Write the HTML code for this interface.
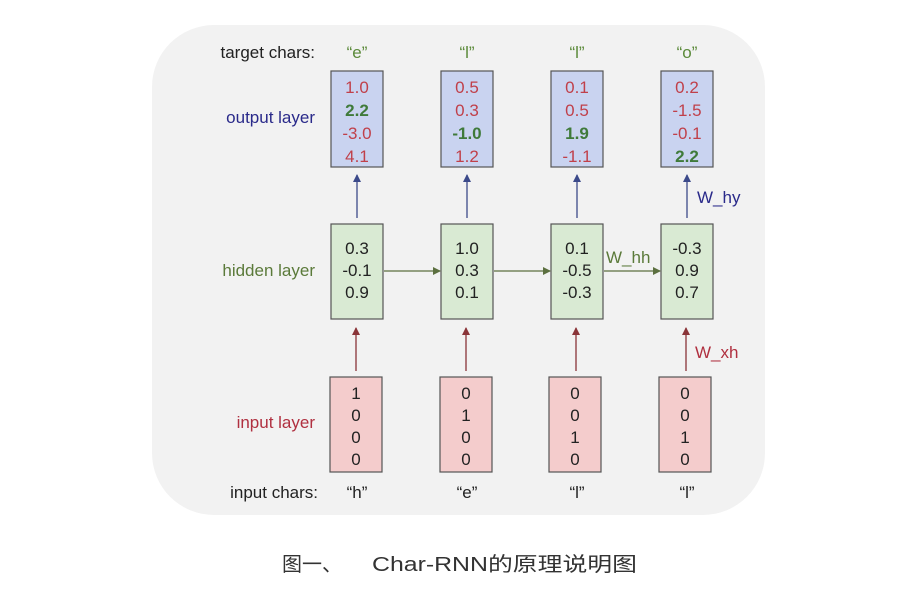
<!DOCTYPE html>
<html><head><meta charset="utf-8"><style>
html,body{margin:0;padding:0;background:#fff}
svg{display:block}
text{font-family:"Liberation Sans",Arial,sans-serif}
</style></head><body>
<svg width="900" height="591" viewBox="0 0 900 591" xmlns="http://www.w3.org/2000/svg">
<defs>
<marker id="ab" markerWidth="8" markerHeight="8" refX="7" refY="4" orient="auto" markerUnits="userSpaceOnUse"><path d="M0,0 L8,4 L0,8 z" fill="#3c4a8a"/></marker>
<marker id="ag" markerWidth="8" markerHeight="8" refX="7" refY="4" orient="auto" markerUnits="userSpaceOnUse"><path d="M0,0 L8,4 L0,8 z" fill="#5c7040"/></marker>
<marker id="ar" markerWidth="8" markerHeight="8" refX="7" refY="4" orient="auto" markerUnits="userSpaceOnUse"><path d="M0,0 L8,4 L0,8 z" fill="#8a3438"/></marker>
</defs>
<rect x="152" y="25" width="613" height="490" rx="62" fill="#f2f2f2"/>
<g font-size="17" text-anchor="end">
<text x="315" y="58" fill="#222">target chars:</text>
<text x="315" y="123" fill="#2a2a8a">output layer</text>
<text x="315" y="276" fill="#5b7a3a">hidden layer</text>
<text x="315" y="428" fill="#b03040">input layer</text>
<text x="318" y="498" fill="#222">input chars:</text>
</g>
<g font-size="17" text-anchor="middle" fill="#5b8a3a">
<text x="357" y="58">“e”</text><text x="467" y="58">“l”</text><text x="577" y="58">“l”</text><text x="687" y="58">“o”</text>
</g>
<g font-size="17" text-anchor="middle" fill="#222">
<text x="357" y="498">“h”</text><text x="467" y="498">“e”</text><text x="577" y="498">“l”</text><text x="687" y="498">“l”</text>
</g>
<g stroke="#555" stroke-width="1.2">
<rect x="331" y="71" width="52" height="96" fill="#c9d3f0"/>
<rect x="441" y="71" width="52" height="96" fill="#c9d3f0"/>
<rect x="551" y="71" width="52" height="96" fill="#c9d3f0"/>
<rect x="661" y="71" width="52" height="96" fill="#c9d3f0"/>
<rect x="331" y="224" width="52" height="95" fill="#d9ead3"/>
<rect x="441" y="224" width="52" height="95" fill="#d9ead3"/>
<rect x="551" y="224" width="52" height="95" fill="#d9ead3"/>
<rect x="661" y="224" width="52" height="95" fill="#d9ead3"/>
<rect x="330" y="377" width="52" height="95" fill="#f4cccc"/>
<rect x="440" y="377" width="52" height="95" fill="#f4cccc"/>
<rect x="549" y="377" width="52" height="95" fill="#f4cccc"/>
<rect x="659" y="377" width="52" height="95" fill="#f4cccc"/>
</g>
<g font-size="17" text-anchor="middle">
<g fill="#c0404a"><text x="357" y="93">1.0</text><text x="357" y="139">-3.0</text><text x="357" y="162">4.1</text>
<text x="467" y="93">0.5</text><text x="467" y="116">0.3</text><text x="467" y="162">1.2</text>
<text x="577" y="93">0.1</text><text x="577" y="116">0.5</text><text x="577" y="162">-1.1</text>
<text x="687" y="93">0.2</text><text x="687" y="116">-1.5</text><text x="687" y="139">-0.1</text></g>
<g fill="#3f7a3a" font-weight="bold"><text x="357" y="116">2.2</text><text x="467" y="139">-1.0</text><text x="577" y="139">1.9</text><text x="687" y="162">2.2</text></g>
<g fill="#222"><text x="357" y="254">0.3</text><text x="357" y="276">-0.1</text><text x="357" y="298">0.9</text>
<text x="467" y="254">1.0</text><text x="467" y="276">0.3</text><text x="467" y="298">0.1</text>
<text x="577" y="254">0.1</text><text x="577" y="276">-0.5</text><text x="577" y="298">-0.3</text>
<text x="687" y="254">-0.3</text><text x="687" y="276">0.9</text><text x="687" y="298">0.7</text>
<text x="356" y="399">1</text><text x="356" y="421">0</text><text x="356" y="443">0</text><text x="356" y="465">0</text>
<text x="466" y="399">0</text><text x="466" y="421">1</text><text x="466" y="443">0</text><text x="466" y="465">0</text>
<text x="575" y="399">0</text><text x="575" y="421">0</text><text x="575" y="443">1</text><text x="575" y="465">0</text>
<text x="685" y="399">0</text><text x="685" y="421">0</text><text x="685" y="443">1</text><text x="685" y="465">0</text></g>
</g>
<g stroke-width="1.3" fill="none">
<line x1="357" y1="218" x2="357" y2="175" stroke="#3c4a8a" marker-end="url(#ab)"/>
<line x1="467" y1="218" x2="467" y2="175" stroke="#3c4a8a" marker-end="url(#ab)"/>
<line x1="577" y1="218" x2="577" y2="175" stroke="#3c4a8a" marker-end="url(#ab)"/>
<line x1="687" y1="218" x2="687" y2="175" stroke="#3c4a8a" marker-end="url(#ab)"/>
<line x1="356" y1="371" x2="356" y2="328" stroke="#8a3438" marker-end="url(#ar)"/>
<line x1="466" y1="371" x2="466" y2="328" stroke="#8a3438" marker-end="url(#ar)"/>
<line x1="576" y1="371" x2="576" y2="328" stroke="#8a3438" marker-end="url(#ar)"/>
<line x1="686" y1="371" x2="686" y2="328" stroke="#8a3438" marker-end="url(#ar)"/>
<line x1="384" y1="271" x2="440" y2="271" stroke="#5c7040" marker-end="url(#ag)"/>
<line x1="494" y1="271" x2="550" y2="271" stroke="#5c7040" marker-end="url(#ag)"/>
<line x1="604" y1="271" x2="660" y2="271" stroke="#5c7040" marker-end="url(#ag)"/>
</g>
<text x="697" y="203" font-size="17" fill="#2a2a8a">W_hy</text>
<text x="606" y="263" font-size="17" fill="#5b7a3a">W_hh</text>
<text x="695" y="358" font-size="17" fill="#b03040">W_xh</text>
<text x="282" y="571" font-size="20" fill="#333" font-family="'Noto Sans CJK SC',sans-serif">图一、</text>
<text x="372" y="571" font-size="20" fill="#333" textLength="265" lengthAdjust="spacingAndGlyphs" font-family="'Liberation Sans','Noto Sans CJK SC',sans-serif">Char-RNN的原理说明图</text>
</svg>
</body></html>
